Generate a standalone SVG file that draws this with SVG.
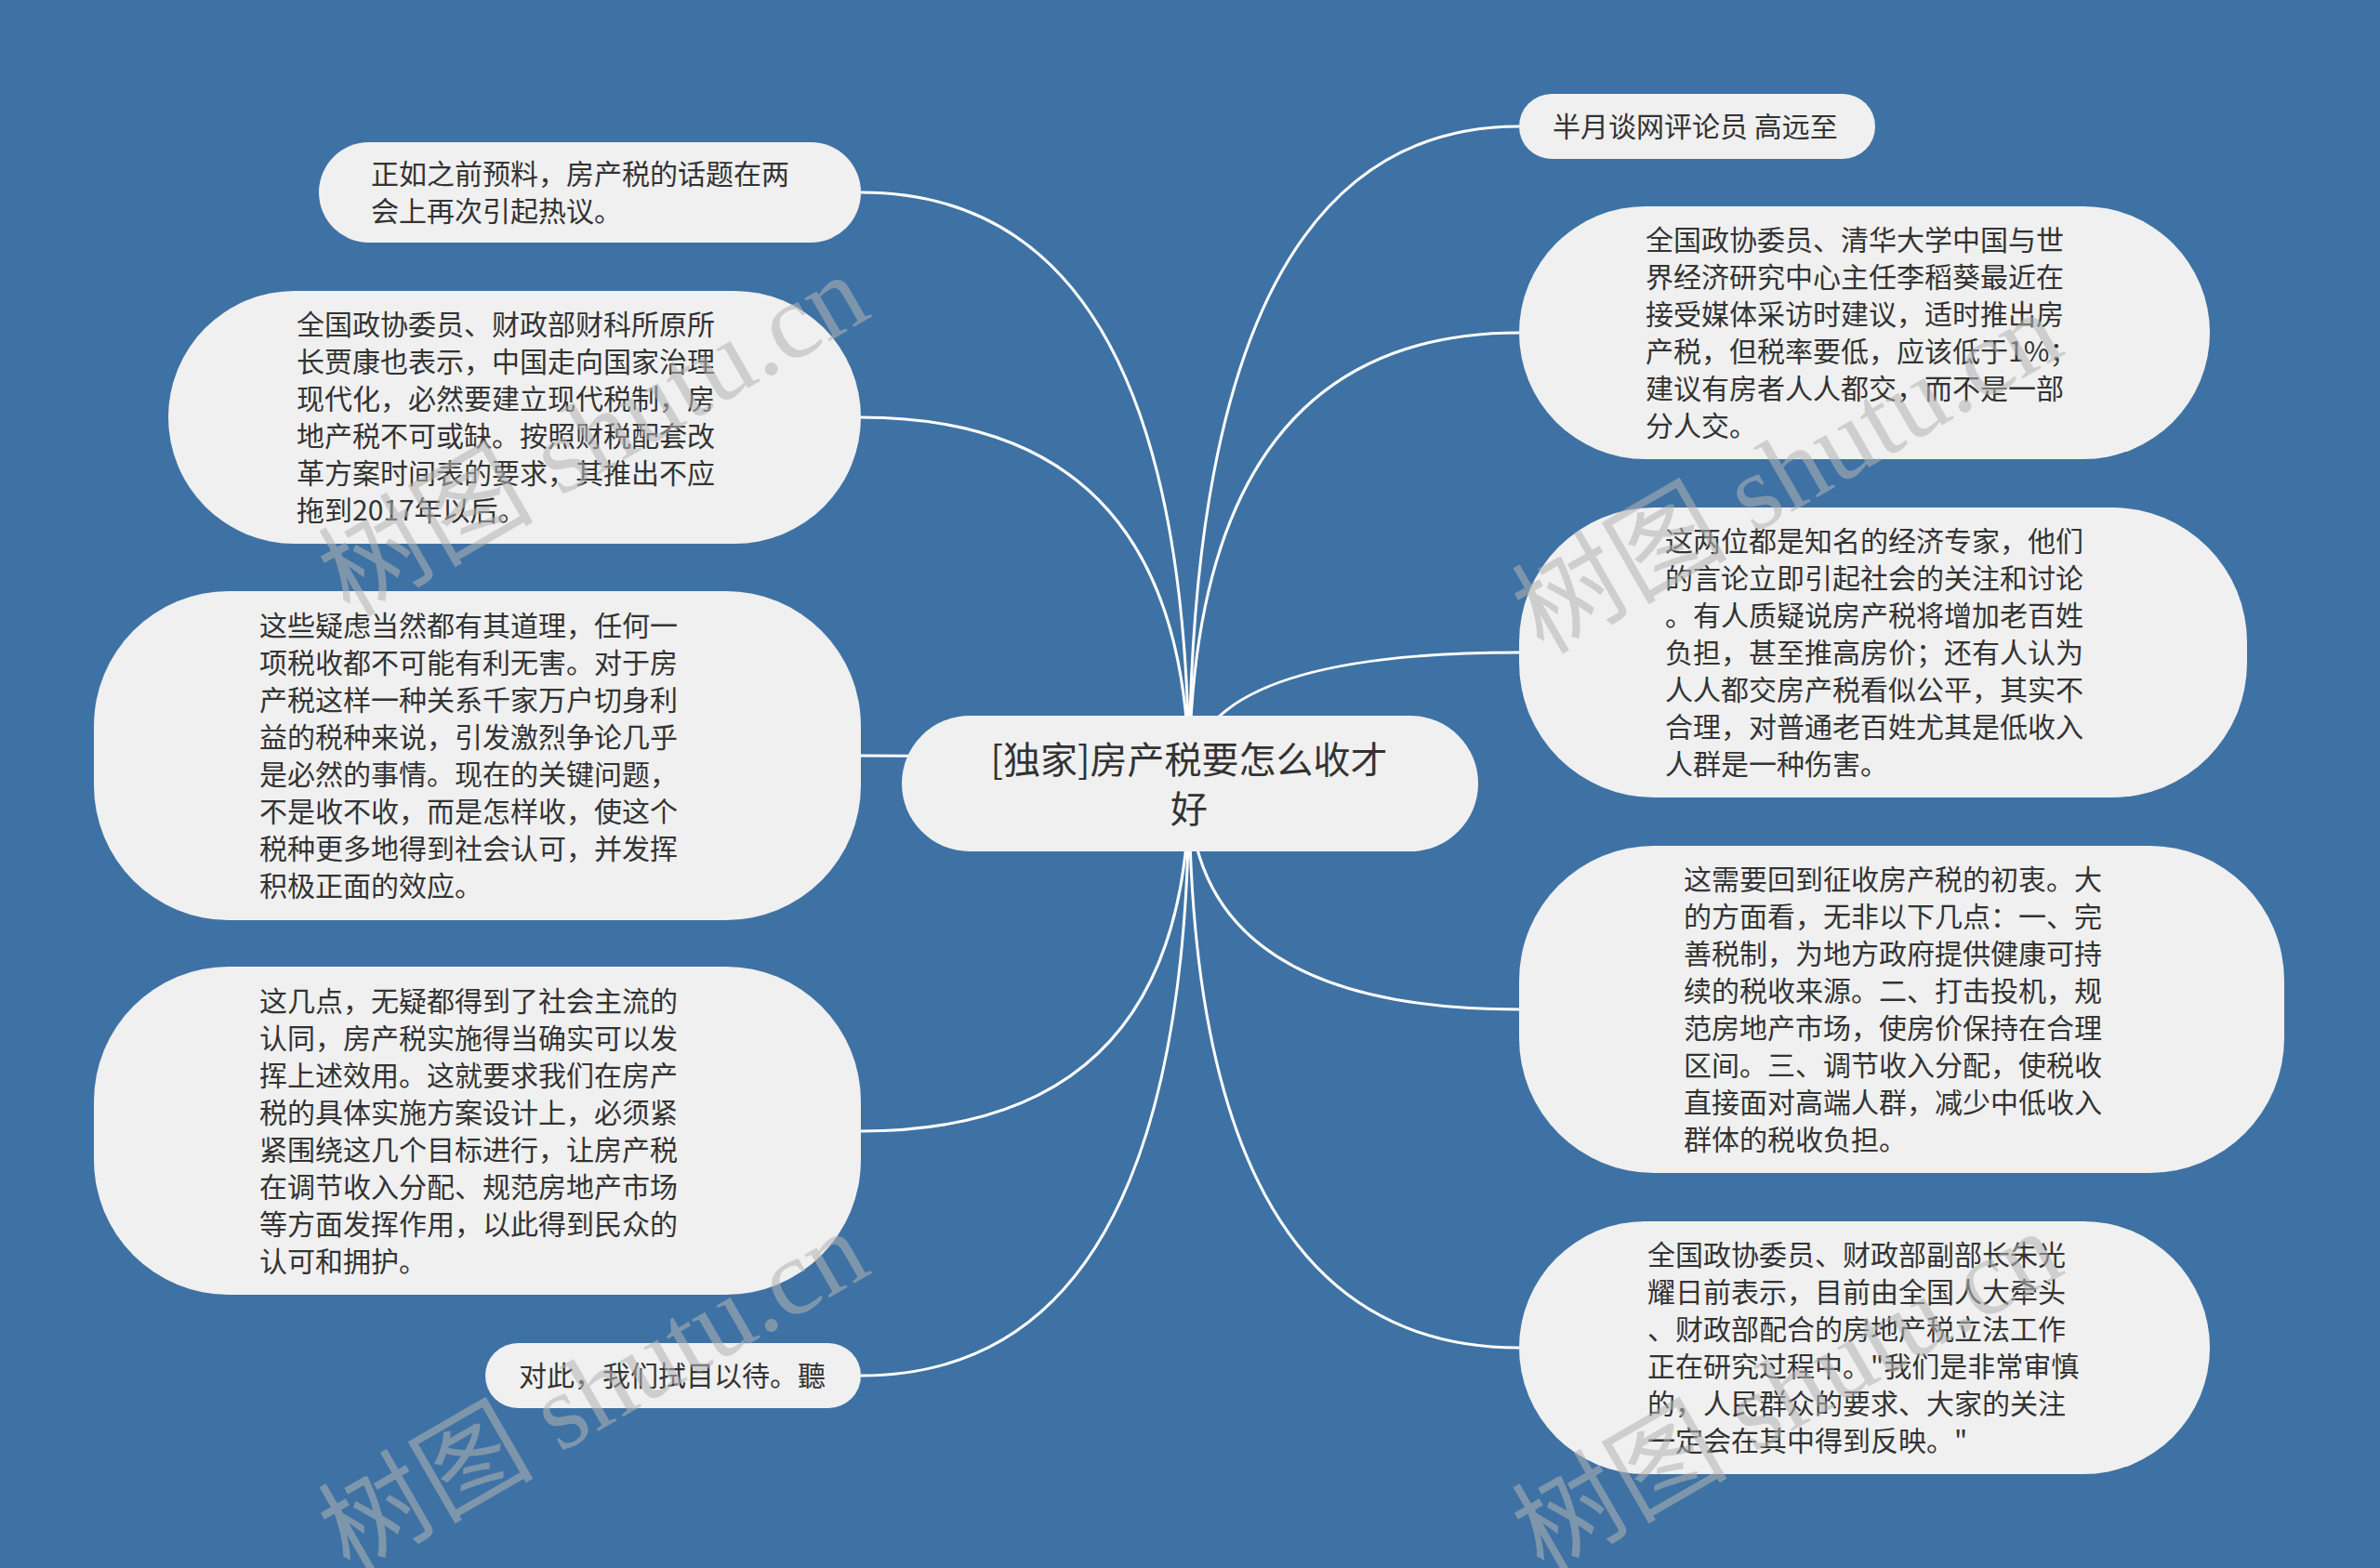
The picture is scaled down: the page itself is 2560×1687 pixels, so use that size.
<svg xmlns="http://www.w3.org/2000/svg" width="2560" height="1687" viewBox="0 0 2560 1687">
<defs>
<style>
.bg{fill:#3e72a4}
.conn path{fill:none;stroke:#ffffff;stroke-width:3}
.node rect{fill:#f0f0f0}
.t{font-family:"Noto Sans CJK SC","Microsoft YaHei",sans-serif;font-size:30px;fill:#333333}
.root{font-family:"Noto Sans CJK SC","Microsoft YaHei",sans-serif;font-size:40px;fill:#333333;text-anchor:middle}
.wm{font-family:"Liberation Serif","Noto Sans CJK SC",serif;font-size:116px;fill:#b4b4b4;opacity:0.55}
</style>
</defs>
<rect class="bg" x="0" y="0" width="2560" height="1687"/>
<g id="connectors" class="conn">
<path d="M926 207 Q1279 207 1279 843"/>
<path d="M926 449 Q1279 449 1279 843"/>
<path d="M926 813 Q1279 813 1279 843"/>
<path d="M926 1217 Q1279 1217 1279 843"/>
<path d="M926 1480 Q1279 1480 1279 843"/>
<path d="M1634 136 Q1279 136 1279 843"/>
<path d="M1634 358 Q1279 358 1279 843"/>
<path d="M1634 702 Q1279 702 1279 843"/>
<path d="M1634 1086 Q1279 1086 1279 843"/>
<path d="M1634 1450 Q1279 1450 1279 843"/>
</g>
<g id="root" class="node">
<rect x="970" y="770" width="620" height="146" rx="73" ry="73"/>
<text class="root"><tspan x="1279" y="832">[独家]房产税要怎么收才</tspan><tspan x="1279" y="885">好</tspan></text>
</g>
<g id="left1" class="node">
<rect x="343" y="153" width="583" height="108" rx="54" ry="54"/>
<text class="t"><tspan x="399" y="198">正如之前预料，房产税的话题在两</tspan><tspan x="399" y="238">会上再次引起热议。</tspan></text>
</g>
<g id="left2" class="node">
<rect x="181" y="313" width="745" height="272" rx="136" ry="136"/>
<text class="t"><tspan x="319" y="360">全国政协委员、财政部财科所原所</tspan><tspan x="319" y="400">长贾康也表示，中国走向国家治理</tspan><tspan x="319" y="440">现代化，必然要建立现代税制，房</tspan><tspan x="319" y="480">地产税不可或缺。按照财税配套改</tspan><tspan x="319" y="520">革方案时间表的要求，其推出不应</tspan><tspan x="319" y="560">拖到2017年以后。</tspan></text>
</g>
<g id="left3" class="node">
<rect x="101" y="636" width="825" height="354" rx="145" ry="145"/>
<text class="t"><tspan x="279" y="684">这些疑虑当然都有其道理，任何一</tspan><tspan x="279" y="724">项税收都不可能有利无害。对于房</tspan><tspan x="279" y="764">产税这样一种关系千家万户切身利</tspan><tspan x="279" y="804">益的税种来说，引发激烈争论几乎</tspan><tspan x="279" y="844">是必然的事情。现在的关键问题，</tspan><tspan x="279" y="884">不是收不收，而是怎样收，使这个</tspan><tspan x="279" y="924">税种更多地得到社会认可，并发挥</tspan><tspan x="279" y="964">积极正面的效应。</tspan></text>
</g>
<g id="left4" class="node">
<rect x="101" y="1040" width="825" height="353" rx="145" ry="145"/>
<text class="t"><tspan x="279" y="1088">这几点，无疑都得到了社会主流的</tspan><tspan x="279" y="1128">认同，房产税实施得当确实可以发</tspan><tspan x="279" y="1168">挥上述效用。这就要求我们在房产</tspan><tspan x="279" y="1208">税的具体实施方案设计上，必须紧</tspan><tspan x="279" y="1248">紧围绕这几个目标进行，让房产税</tspan><tspan x="279" y="1288">在调节收入分配、规范房地产市场</tspan><tspan x="279" y="1328">等方面发挥作用，以此得到民众的</tspan><tspan x="279" y="1368">认可和拥护。</tspan></text>
</g>
<g id="left5" class="node">
<rect x="522" y="1445" width="404" height="70" rx="35" ry="35"/>
<text class="t"><tspan x="558" y="1491">对此，我们拭目以待。聽</tspan></text>
</g>
<g id="right1" class="node">
<rect x="1634" y="101" width="383" height="70" rx="35" ry="35"/>
<text class="t"><tspan x="1670" y="147">半月谈网评论员 高远至</tspan></text>
</g>
<g id="right2" class="node">
<rect x="1634" y="222" width="743" height="272" rx="136" ry="136"/>
<text class="t"><tspan x="1770" y="269">全国政协委员、清华大学中国与世</tspan><tspan x="1770" y="309">界经济研究中心主任李稻葵最近在</tspan><tspan x="1770" y="349">接受媒体采访时建议，适时推出房</tspan><tspan x="1770" y="389">产税，但税率要低，应该低于1%；</tspan><tspan x="1770" y="429">建议有房者人人都交，而不是一部</tspan><tspan x="1770" y="469">分人交。</tspan></text>
</g>
<g id="right3" class="node">
<rect x="1634" y="546" width="783" height="312" rx="145" ry="145"/>
<text class="t"><tspan x="1791" y="593">这两位都是知名的经济专家，他们</tspan><tspan x="1791" y="633">的言论立即引起社会的关注和讨论</tspan><tspan x="1791" y="673">。有人质疑说房产税将增加老百姓</tspan><tspan x="1791" y="713">负担，甚至推高房价；还有人认为</tspan><tspan x="1791" y="753">人人都交房产税看似公平，其实不</tspan><tspan x="1791" y="793">合理，对普通老百姓尤其是低收入</tspan><tspan x="1791" y="833">人群是一种伤害。</tspan></text>
</g>
<g id="right4" class="node">
<rect x="1634" y="910" width="823" height="352" rx="145" ry="145"/>
<text class="t"><tspan x="1811" y="957">这需要回到征收房产税的初衷。大</tspan><tspan x="1811" y="997">的方面看，无非以下几点：一、完</tspan><tspan x="1811" y="1037">善税制，为地方政府提供健康可持</tspan><tspan x="1811" y="1077">续的税收来源。二、打击投机，规</tspan><tspan x="1811" y="1117">范房地产市场，使房价保持在合理</tspan><tspan x="1811" y="1157">区间。三、调节收入分配，使税收</tspan><tspan x="1811" y="1197">直接面对高端人群，减少中低收入</tspan><tspan x="1811" y="1237">群体的税收负担。</tspan></text>
</g>
<g id="right5" class="node">
<rect x="1634" y="1314" width="743" height="272" rx="136" ry="136"/>
<text class="t"><tspan x="1772" y="1361">全国政协委员、财政部副部长朱光</tspan><tspan x="1772" y="1401">耀日前表示，目前由全国人大牵头</tspan><tspan x="1772" y="1441">、财政部配合的房地产税立法工作</tspan><tspan x="1772" y="1481">正在研究过程中。"我们是非常审慎</tspan><tspan x="1772" y="1521">的，人民群众的要求、大家的关注</tspan><tspan x="1772" y="1561">一定会在其中得到反映。"</tspan></text>
</g>
<g id="watermarks">
<text class="wm" x="376" y="665" transform="rotate(-30 376 665)">树图 shutu.cn</text>
<text class="wm" x="376" y="1694" transform="rotate(-30 376 1694)">树图 shutu.cn</text>
<text class="wm" x="1660" y="705" transform="rotate(-30 1660 705)">树图 shutu.cn</text>
<text class="wm" x="1660" y="1694" transform="rotate(-30 1660 1694)">树图 shutu.cn</text>
</g>
</svg>
